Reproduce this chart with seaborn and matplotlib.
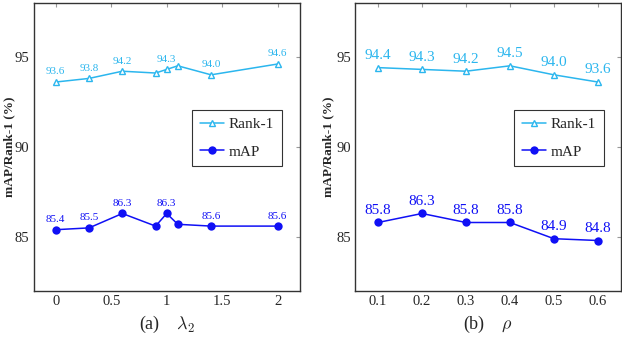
import matplotlib
matplotlib.use("Agg")
import matplotlib.pyplot as plt
import seaborn as sns
import pandas as pd

# (a) lambda_2 sweep
lam_x = [0, 0.3, 0.6, 0.9, 1.0, 1.1, 1.4, 2.0]
lam_rank1 = [93.6, 93.8, 94.2, 94.1, 94.3, 94.5, 94.0, 94.6]
lam_map = [85.4, 85.5, 86.3, 85.6, 86.3, 85.7, 85.6, 85.6]
lam_labeled = [0, 0.3, 0.6, 1.0, 1.4, 2.0]

# (b) rho sweep
rho_x = [0.1, 0.2, 0.3, 0.4, 0.5, 0.6]
rho_rank1 = [94.4, 94.3, 94.2, 94.5, 94.0, 93.6]
rho_map = [85.8, 86.3, 85.8, 85.8, 84.9, 84.8]
rho_labeled = rho_x

RANK_C = "#2bb6ee"
MAP_C = "#1010f5"

sns.set_style("white")
plt.rcParams["font.family"] = ["Liberation Serif", "DejaVu Serif"]
plt.rcParams["mathtext.fontset"] = "cm"

fig = plt.figure(figsize=(6.22, 3.48), dpi=100)
ax1 = fig.add_axes([0.054, 0.164, 0.428, 0.828])
ax2 = fig.add_axes([0.571, 0.164, 0.427, 0.828])


def draw(ax, x, r1, mp, labeled, xlim, xticks, xticklabels, xlabel, lab_fs, ylab_x, leg_x):
    df = pd.DataFrame({"x": x, "Rank-1": r1, "mAP": mp})
    sns.lineplot(data=df, x="x", y="Rank-1", ax=ax, color=RANK_C, lw=1.1,
                 marker="^", markersize=5, markerfacecolor="white",
                 markeredgecolor=RANK_C, markeredgewidth=1.0, label="Rank-1")
    sns.lineplot(data=df, x="x", y="mAP", ax=ax, color=MAP_C, lw=1.1,
                 marker="o", markersize=6, markeredgewidth=0, label="mAP")
    for xi, a, b in zip(x, r1, mp):
        if xi in labeled:
            ax.annotate(f"{a:.1f}", (xi, a), xytext=(0, 4), textcoords="offset points",
                        ha="center", va="bottom", color=RANK_C, fontsize=lab_fs)
            ax.annotate(f"{b:.1f}", (xi, b), xytext=(0, 4), textcoords="offset points",
                        ha="center", va="bottom", color=MAP_C, fontsize=lab_fs)
    ax.set_xlim(*xlim)
    ax.set_ylim(82, 98)
    ax.set_xticks(xticks)
    ax.set_xticklabels(xticklabels)
    ax.set_yticks([85, 90, 95])
    ax.set_ylabel("mAP/Rank-1 (%)", fontsize=9.5, fontweight="bold")
    ax.yaxis.set_label_coords(ylab_x, 0.5)
    ax.set_xlabel(xlabel, fontsize=13, labelpad=4)
    ax.tick_params(axis="both", labelsize=10.5, color="#999999", length=3, pad=3,
                   direction="in", top=True, right=True)
    for s in ax.spines.values():
        s.set_color("#333333")
        s.set_linewidth(1.0)
    leg = ax.legend(loc="center right", bbox_to_anchor=(leg_x, 0.53), fontsize=11,
                    frameon=True, fancybox=False, edgecolor="black",
                    handlelength=1.6, borderpad=0.5, labelspacing=0.9, handletextpad=0.3)
    leg.get_frame().set_linewidth(0.8)


draw(ax1, lam_x, lam_rank1, lam_map, lam_labeled, (-0.2, 2.2),
     [0, 0.5, 1, 1.5, 2], ["0", "0.5", "1", "1.5", "2"],
     r"(a)    $\lambda_2$", 8, -0.07, 0.96)
draw(ax2, rho_x, rho_rank1, rho_map, rho_labeled, (0.048, 0.652),
     rho_x, [f"{v:.1f}" for v in rho_x],
     r"(b)    $\rho$", 11, -0.08, 0.965)

fig.savefig("out.png", dpi=100)
